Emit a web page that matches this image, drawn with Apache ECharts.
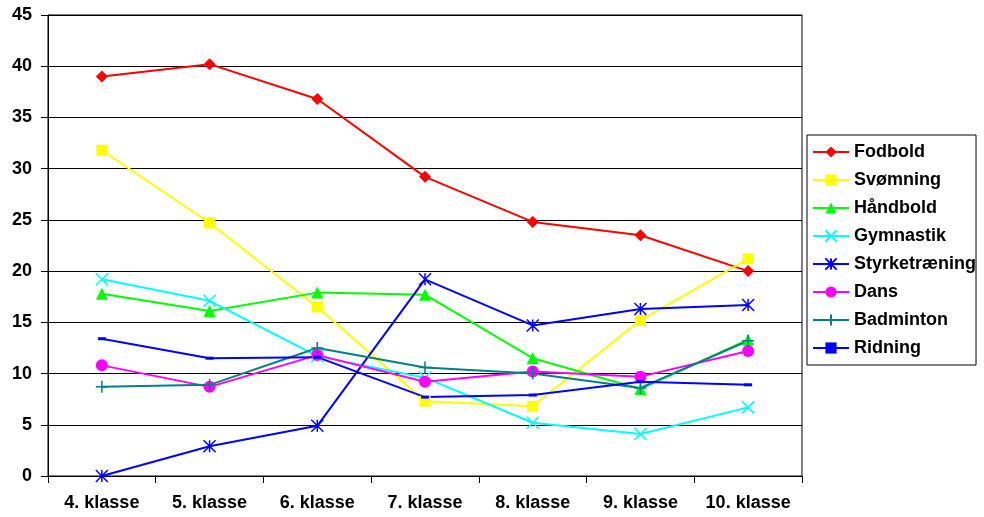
<!DOCTYPE html>
<html>
<head>
<meta charset="utf-8">
<script src="https://cdn.jsdelivr.net/npm/echarts@6/dist/echarts.min.js"></script>
<style>
  html, body { margin: 0; padding: 0; background: #fff; }
  #chart { width: 984px; height: 517px; }
</style>
</head>
<body>
<div id="chart"></div>
<script>
// Kategorier (klassetrin)
const categories = ["4. klasse", "5. klasse", "6. klasse", "7. klasse", "8. klasse", "9. klasse", "10. klasse"];

// Procentværdier
const fodbold = [39.0, 40.2, 36.8, 29.2, 24.8, 23.5, 20.0];
const svomning = [31.8, 24.7, 16.5, 7.3, 6.8, 15.2, 21.2];
const handbold = [17.8, 16.1, 17.9, 17.7, 11.5, 8.5, 13.3];
const gymnastik = [19.2, 17.1, 11.7, 9.6, 5.2, 4.1, 6.7];
const styrke = [0.0, 2.9, 4.9, 19.2, 14.7, 16.3, 16.7];
const dans = [10.8, 8.7, 11.8, 9.2, 10.2, 9.7, 12.2];
const badminton = [8.7, 8.9, 12.5, 10.6, 10.0, 8.6, 13.2];
const ridning = [13.4, 11.5, 11.6, 7.7, 7.9, 9.2, 8.9];

const yTicks = { min: 0, max: 45, interval: 5 };

const FONT = "Liberation Sans, Arial, sans-serif";

// symboler der kun tegnes med streger
const X_PATH = "path://M0,0L10,10M10,0L0,10";
const STAR_PATH = "path://M0,0L10,10M10,0L0,10M5,0L5,10";
const PLUS_PATH = "path://M5,0L5,10M0,5L10,5";

function makeSeries(name, data, color, symbol, size, stroke) {
  return {
    name,
    type: "line",
    data,
    symbol,
    symbolSize: size,
    showAllSymbol: true,
    lineStyle: { color, width: 2 },
    itemStyle: stroke
      ? { color: "transparent", borderColor: color, borderWidth: 1.5 }
      : { color, borderWidth: 0 },
    emphasis: { disabled: true },
    animation: false,
  };
}

const chart = echarts.init(document.getElementById("chart"));
chart.setOption({
  backgroundColor: "#fff",
  textStyle: { fontFamily: FONT },
  grid: {
    left: 48, right: 182, top: 15, bottom: 41,
    show: true, borderColor: "#000", borderWidth: 1, backgroundColor: "transparent",
  },
  legend: {
    orient: "vertical",
    left: 807, top: 135,
    padding: [8, 0, 8, 5],
    borderColor: "#000",
    borderWidth: 1,
    itemWidth: 36,
    itemHeight: 14,
    itemGap: 10,
    textStyle: { color: "#000", fontWeight: "bold", fontSize: 18, fontFamily: FONT },
    data: ["Fodbold", "Svømning", "Håndbold", "Gymnastik", "Styrketræning", "Dans", "Badminton", "Ridning"],
  },
  xAxis: {
    type: "category",
    data: categories,
    boundaryGap: true,
    axisLine: { lineStyle: { color: "#000", width: 1 } },
    axisTick: { show: true, length: 7, lineStyle: { color: "#000" } },
    axisLabel: { color: "#000", fontWeight: "bold", fontSize: 18, margin: 18, fontFamily: FONT, interval: 0 },
    splitLine: { show: false },
  },
  yAxis: {
    type: "value",
    min: yTicks.min, max: yTicks.max, interval: yTicks.interval,
    axisLine: { show: true, lineStyle: { color: "#000", width: 1 } },
    axisTick: { show: true, length: 7, lineStyle: { color: "#000" } },
    axisLabel: { color: "#000", fontWeight: "bold", fontSize: 18, margin: 16, fontFamily: FONT },
    splitLine: { show: true, lineStyle: { color: "#000", width: 1 } },
  },
  series: [
    makeSeries("Fodbold", fodbold, "#ff0000", "diamond", 12, false),
    makeSeries("Svømning", svomning, "#ffff00", "rect", 11, false),
    makeSeries("Håndbold", handbold, "#00ff00", "triangle", 12, false),
    makeSeries("Gymnastik", gymnastik, "#00ffff", X_PATH, 12, true),
    makeSeries("Styrketræning", styrke, "#0000ff", STAR_PATH, 12, true),
    makeSeries("Dans", dans, "#ff00ff", "circle", 12, false),
    makeSeries("Badminton", badminton, "#008080", PLUS_PATH, 12, true),
    makeSeries("Ridning", ridning, "#0000ff", "rect", [8, 3], false),
  ],
});
</script>
</body>
</html>
